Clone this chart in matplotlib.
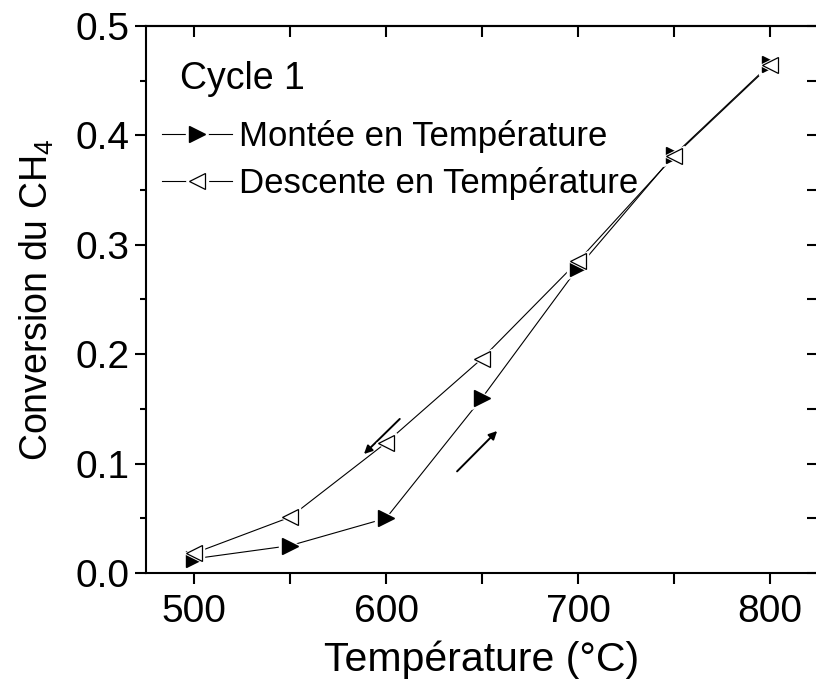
import matplotlib
matplotlib.use("Agg")
import matplotlib.pyplot as plt
from matplotlib.lines import Line2D
from matplotlib.legend_handler import HandlerTuple
from matplotlib.ticker import MultipleLocator

plt.rcParams['font.family'] = ['Liberation Sans', 'DejaVu Sans']
plt.rcParams['mathtext.fontset'] = 'custom'
plt.rcParams['mathtext.rm'] = 'Liberation Sans'
plt.rcParams['mathtext.it'] = 'Liberation Sans'

temps = [500, 550, 600, 650, 700, 750, 800]
montee = [0.013, 0.025, 0.050, 0.160, 0.279, 0.382, 0.465]
descente = [0.018, 0.051, 0.119, 0.196, 0.285, 0.381, 0.464]
label_montee = "Montée en Température"
label_descente = "Descente en Température"

fig = plt.figure(figsize=(8.16, 6.88), dpi=100)
ax = fig.add_axes([146/816, 1-573/688, 672/816, 547/688])

MS = 12
HALO = 16
LW = 0.8

ax.plot(temps, montee, '-', color='black', lw=LW, zorder=2)
ax.plot(temps, descente, '-', color='black', lw=LW, zorder=2)
ax.plot(temps, montee, '>', ms=HALO, color='white', mec='white', ls='none', zorder=3)
ax.plot(temps, montee, '>', ms=MS, color='black', mec='black', ls='none', zorder=4)
ax.plot(temps, descente, '<', ms=HALO - 2, color='white', mec='white', ls='none', zorder=5)
ax.plot(temps, descente, '<', ms=MS, mfc='white', mec='black', mew=0.9, ls='none', zorder=6)

ax.set_xlim(475, 825)
ax.set_ylim(0, 0.5)
ax.xaxis.set_major_locator(MultipleLocator(100))
ax.xaxis.set_minor_locator(MultipleLocator(50))
ax.yaxis.set_major_locator(MultipleLocator(0.1))
ax.yaxis.set_minor_locator(MultipleLocator(0.05))
ax.yaxis.set_major_formatter(plt.FuncFormatter(lambda v, p: f"{v:.1f}"))

for s in ax.spines.values():
    s.set_linewidth(1.5)

ax.tick_params(axis='both', which='major', labelsize=28, width=1.5, length=8, direction='out')
ax.tick_params(axis='x', which='minor', width=1.5, length=8, direction='out')
ax.tick_params(axis='y', which='minor', width=1.5, length=4.5, direction='out')
ax.tick_params(axis='x', which='major', pad=7)
ax.tick_params(axis='y', which='major', pad=4)
# top and right ticks (inward)
axt = ax.secondary_xaxis('top')
axt.xaxis.set_major_locator(MultipleLocator(50))
axt.tick_params(direction='in', length=8, width=1.5, labeltop=False)
axt.spines['top'].set_linewidth(1.5)
axr = ax.secondary_yaxis('right')
axr.yaxis.set_major_locator(MultipleLocator(0.05))
axr.tick_params(direction='in', length=8, width=1.5, labelright=False)

ax.set_xlabel("Température (°C)", fontsize=29.5, labelpad=8)
ax.set_ylabel("Conversion du CH$_4$", fontsize=27, labelpad=14)

ax.text(492.5, 0.452, "Cycle 1", fontsize=27, va='center', ha='left')

# arrows
ax.annotate("", xy=(587.5, 0.107), xytext=(608.2, 0.1426),
            arrowprops=dict(arrowstyle='-|>', color='black', lw=1.4, mutation_scale=12))
ax.annotate("", xy=(658.9, 0.1316), xytext=(636.0, 0.0911),
            arrowprops=dict(arrowstyle='-|>', color='black', lw=1.4, mutation_scale=12))

h_m = (Line2D([], [], color='black', lw=LW),
       Line2D([], [], marker='>', ms=HALO, color='white', mec='white', ls='none'),
       Line2D([], [], marker='>', ms=MS, color='black', ls='none'))
h_d = (Line2D([], [], color='black', lw=LW),
       Line2D([], [], marker='<', ms=HALO, color='white', mec='white', ls='none'),
       Line2D([], [], marker='<', ms=MS, mfc='white', mec='black', mew=0.9, ls='none'))
leg = ax.legend([h_m, h_d], [label_montee, label_descente],
                handler_map={tuple: HandlerTuple(ndivide=1)},
                loc='upper left', bbox_to_anchor=(0.024, 0.828), frameon=False,
                fontsize=25, handlelength=2.0, handletextpad=0.22, labelspacing=0.4,
                borderaxespad=0, borderpad=0)

fig.savefig("out.png", dpi=100)
